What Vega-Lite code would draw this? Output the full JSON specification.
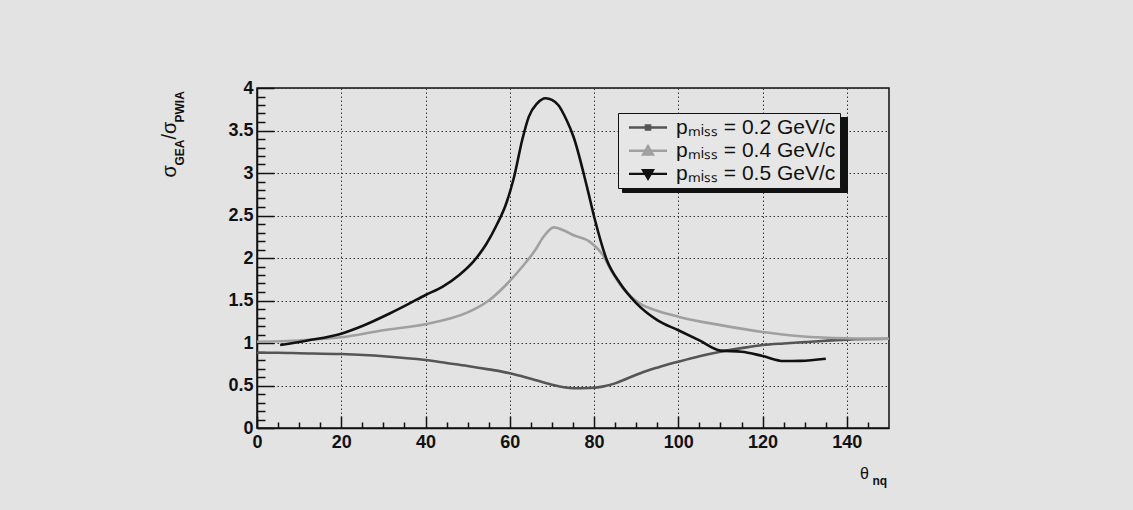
{
  "$schema": "https://vega.github.io/schema/vega-lite/v6.json",
  "width": 632,
  "height": 340,
  "autosize": {"type": "none"},
  "padding": {"left": 257, "top": 88, "right": 244, "bottom": 82},
  "background": "#e3e3e3",
  "config": {
    "view": {"stroke": "#111111", "strokeWidth": 1.5, "fill": "#e3e3e3"},
    "axis": {
      "labelFont": "Liberation Sans", "labelFontWeight": "bold", "labelFontSize": 18, "labelColor": "#111111",
      "titleFont": "Liberation Sans", "titleColor": "#111111",
      "domainColor": "#111111", "domainWidth": 1.5, "tickColor": "#111111", "tickWidth": 1.5,
      "gridColor": "#333333", "gridDash": [1.5, 2.5], "gridWidth": 1, "gridOpacity": 1,
      "labelFlush": false
    },
    "legend": {
      "orient": "none", "title": null, "padding": 4, "labelFont": "Liberation Sans", "labelFontSize": 21,
      "symbolSize": 400, "symbolStrokeWidth": 0, "symbolOpacity": 1, "rowPadding": 1.2, "symbolOffset": 15.5, "labelOffset": 17.5
    }
  },
  "data": {"values": [
    {"s": "pₘᵢₛₛ = 0.2 GeV/c", "t": 0, "r": 0.886},
    {"s": "pₘᵢₛₛ = 0.2 GeV/c", "t": 5, "r": 0.885},
    {"s": "pₘᵢₛₛ = 0.2 GeV/c", "t": 10, "r": 0.88},
    {"s": "pₘᵢₛₛ = 0.2 GeV/c", "t": 20, "r": 0.87},
    {"s": "pₘᵢₛₛ = 0.2 GeV/c", "t": 30, "r": 0.845},
    {"s": "pₘᵢₛₛ = 0.2 GeV/c", "t": 40, "r": 0.8},
    {"s": "pₘᵢₛₛ = 0.2 GeV/c", "t": 45, "r": 0.765},
    {"s": "pₘᵢₛₛ = 0.2 GeV/c", "t": 50, "r": 0.73},
    {"s": "pₘᵢₛₛ = 0.2 GeV/c", "t": 55, "r": 0.69},
    {"s": "pₘᵢₛₛ = 0.2 GeV/c", "t": 60, "r": 0.645},
    {"s": "pₘᵢₛₛ = 0.2 GeV/c", "t": 65, "r": 0.58},
    {"s": "pₘᵢₛₛ = 0.2 GeV/c", "t": 70, "r": 0.51},
    {"s": "pₘᵢₛₛ = 0.2 GeV/c", "t": 75, "r": 0.468},
    {"s": "pₘᵢₛₛ = 0.2 GeV/c", "t": 79, "r": 0.47},
    {"s": "pₘᵢₛₛ = 0.2 GeV/c", "t": 82, "r": 0.487},
    {"s": "pₘᵢₛₛ = 0.2 GeV/c", "t": 85, "r": 0.525},
    {"s": "pₘᵢₛₛ = 0.2 GeV/c", "t": 88, "r": 0.585},
    {"s": "pₘᵢₛₛ = 0.2 GeV/c", "t": 91, "r": 0.645},
    {"s": "pₘᵢₛₛ = 0.2 GeV/c", "t": 95, "r": 0.71},
    {"s": "pₘᵢₛₛ = 0.2 GeV/c", "t": 100, "r": 0.78},
    {"s": "pₘᵢₛₛ = 0.2 GeV/c", "t": 105, "r": 0.845},
    {"s": "pₘᵢₛₛ = 0.2 GeV/c", "t": 110, "r": 0.898},
    {"s": "pₘᵢₛₛ = 0.2 GeV/c", "t": 115, "r": 0.94},
    {"s": "pₘᵢₛₛ = 0.2 GeV/c", "t": 120, "r": 0.976},
    {"s": "pₘᵢₛₛ = 0.2 GeV/c", "t": 125, "r": 0.995},
    {"s": "pₘᵢₛₛ = 0.2 GeV/c", "t": 130, "r": 1.01},
    {"s": "pₘᵢₛₛ = 0.2 GeV/c", "t": 140, "r": 1.04},
    {"s": "pₘᵢₛₛ = 0.2 GeV/c", "t": 150, "r": 1.05},
    {"s": "pₘᵢₛₛ = 0.4 GeV/c", "t": 0, "r": 1.015},
    {"s": "pₘᵢₛₛ = 0.4 GeV/c", "t": 10, "r": 1.03},
    {"s": "pₘᵢₛₛ = 0.4 GeV/c", "t": 20, "r": 1.067},
    {"s": "pₘᵢₛₛ = 0.4 GeV/c", "t": 30, "r": 1.15},
    {"s": "pₘᵢₛₛ = 0.4 GeV/c", "t": 40, "r": 1.22},
    {"s": "pₘᵢₛₛ = 0.4 GeV/c", "t": 46, "r": 1.29},
    {"s": "pₘᵢₛₛ = 0.4 GeV/c", "t": 50, "r": 1.36},
    {"s": "pₘᵢₛₛ = 0.4 GeV/c", "t": 55, "r": 1.5},
    {"s": "pₘᵢₛₛ = 0.4 GeV/c", "t": 60, "r": 1.73},
    {"s": "pₘᵢₛₛ = 0.4 GeV/c", "t": 63, "r": 1.9},
    {"s": "pₘᵢₛₛ = 0.4 GeV/c", "t": 66, "r": 2.09},
    {"s": "pₘᵢₛₛ = 0.4 GeV/c", "t": 68, "r": 2.25},
    {"s": "pₘᵢₛₛ = 0.4 GeV/c", "t": 70.5, "r": 2.36},
    {"s": "pₘᵢₛₛ = 0.4 GeV/c", "t": 73, "r": 2.32},
    {"s": "pₘᵢₛₛ = 0.4 GeV/c", "t": 75, "r": 2.27},
    {"s": "pₘᵢₛₛ = 0.4 GeV/c", "t": 79, "r": 2.19},
    {"s": "pₘᵢₛₛ = 0.4 GeV/c", "t": 82, "r": 2.04},
    {"s": "pₘᵢₛₛ = 0.4 GeV/c", "t": 84, "r": 1.86},
    {"s": "pₘᵢₛₛ = 0.4 GeV/c", "t": 86, "r": 1.7},
    {"s": "pₘᵢₛₛ = 0.4 GeV/c", "t": 88, "r": 1.58},
    {"s": "pₘᵢₛₛ = 0.4 GeV/c", "t": 91, "r": 1.46},
    {"s": "pₘᵢₛₛ = 0.4 GeV/c", "t": 95, "r": 1.38},
    {"s": "pₘᵢₛₛ = 0.4 GeV/c", "t": 100, "r": 1.31},
    {"s": "pₘᵢₛₛ = 0.4 GeV/c", "t": 110, "r": 1.21},
    {"s": "pₘᵢₛₛ = 0.4 GeV/c", "t": 120, "r": 1.13},
    {"s": "pₘᵢₛₛ = 0.4 GeV/c", "t": 129, "r": 1.08},
    {"s": "pₘᵢₛₛ = 0.4 GeV/c", "t": 140, "r": 1.055},
    {"s": "pₘᵢₛₛ = 0.4 GeV/c", "t": 150, "r": 1.05},
    {"s": "pₘᵢₛₛ = 0.5 GeV/c", "t": 5.5, "r": 0.976},
    {"s": "pₘᵢₛₛ = 0.5 GeV/c", "t": 12, "r": 1.03},
    {"s": "pₘᵢₛₛ = 0.5 GeV/c", "t": 20, "r": 1.11},
    {"s": "pₘᵢₛₛ = 0.5 GeV/c", "t": 25, "r": 1.2},
    {"s": "pₘᵢₛₛ = 0.5 GeV/c", "t": 31.6, "r": 1.35},
    {"s": "pₘᵢₛₛ = 0.5 GeV/c", "t": 36, "r": 1.46},
    {"s": "pₘᵢₛₛ = 0.5 GeV/c", "t": 40, "r": 1.565},
    {"s": "pₘᵢₛₛ = 0.5 GeV/c", "t": 44, "r": 1.66},
    {"s": "pₘᵢₛₛ = 0.5 GeV/c", "t": 48, "r": 1.8},
    {"s": "pₘᵢₛₛ = 0.5 GeV/c", "t": 51.4, "r": 1.96},
    {"s": "pₘᵢₛₛ = 0.5 GeV/c", "t": 54.5, "r": 2.17},
    {"s": "pₘᵢₛₛ = 0.5 GeV/c", "t": 57, "r": 2.4},
    {"s": "pₘᵢₛₛ = 0.5 GeV/c", "t": 59, "r": 2.62},
    {"s": "pₘᵢₛₛ = 0.5 GeV/c", "t": 61, "r": 2.95},
    {"s": "pₘᵢₛₛ = 0.5 GeV/c", "t": 63, "r": 3.4},
    {"s": "pₘᵢₛₛ = 0.5 GeV/c", "t": 64.5, "r": 3.66},
    {"s": "pₘᵢₛₛ = 0.5 GeV/c", "t": 66.5, "r": 3.82},
    {"s": "pₘᵢₛₛ = 0.5 GeV/c", "t": 68.5, "r": 3.88},
    {"s": "pₘᵢₛₛ = 0.5 GeV/c", "t": 70, "r": 3.86},
    {"s": "pₘᵢₛₛ = 0.5 GeV/c", "t": 71.5, "r": 3.8},
    {"s": "pₘᵢₛₛ = 0.5 GeV/c", "t": 73.5, "r": 3.62},
    {"s": "pₘᵢₛₛ = 0.5 GeV/c", "t": 75.1, "r": 3.43},
    {"s": "pₘᵢₛₛ = 0.5 GeV/c", "t": 78.3, "r": 2.84},
    {"s": "pₘᵢₛₛ = 0.5 GeV/c", "t": 80.2, "r": 2.45},
    {"s": "pₘᵢₛₛ = 0.5 GeV/c", "t": 83, "r": 1.98},
    {"s": "pₘᵢₛₛ = 0.5 GeV/c", "t": 86.2, "r": 1.7},
    {"s": "pₘᵢₛₛ = 0.5 GeV/c", "t": 90, "r": 1.47},
    {"s": "pₘᵢₛₛ = 0.5 GeV/c", "t": 95, "r": 1.27},
    {"s": "pₘᵢₛₛ = 0.5 GeV/c", "t": 100, "r": 1.15},
    {"s": "pₘᵢₛₛ = 0.5 GeV/c", "t": 105, "r": 1.03},
    {"s": "pₘᵢₛₛ = 0.5 GeV/c", "t": 110, "r": 0.91},
    {"s": "pₘᵢₛₛ = 0.5 GeV/c", "t": 115, "r": 0.898},
    {"s": "pₘᵢₛₛ = 0.5 GeV/c", "t": 120, "r": 0.847},
    {"s": "pₘᵢₛₛ = 0.5 GeV/c", "t": 125, "r": 0.788},
    {"s": "pₘᵢₛₛ = 0.5 GeV/c", "t": 129, "r": 0.79},
    {"s": "pₘᵢₛₛ = 0.5 GeV/c", "t": 135, "r": 0.815}
  ]},
  "resolve": {"axis": {"x": "independent", "y": "independent"}},
  "layer": [
    {
      "mark": {"type": "line", "strokeWidth": 2.6, "interpolate": "monotone"},
      "encoding": {
        "x": {"field": "t", "type": "quantitative", "scale": {"domain": [0, 150], "nice": false, "zero": false},
          "axis": {"orient": "bottom", "values": [0, 20, 40, 60, 80, 100, 120, 140], "grid": true, "ticks": false, "labelPadding": 5,
            "title": "θ", "titleX": 607, "titleY": 50, "titleFontSize": 16, "titleFontWeight": "normal",
            "titleAlign": "center", "titleBaseline": "alphabetic", "titleAngle": 0}},
        "y": {"field": "r", "type": "quantitative", "scale": {"domain": [0, 4], "nice": false, "zero": false},
          "axis": {"orient": "left", "values": [0, 0.5, 1, 1.5, 2, 2.5, 3, 3.5, 4], "format": "~g", "grid": true, "ticks": false, "labelPadding": 4,
            "title": "σ", "titleX": -82, "titleY": 89, "titleFontSize": 20, "titleFontWeight": "normal",
            "titleAlign": "left", "titleBaseline": "alphabetic", "titleAngle": 270}},
        "color": {"field": "s", "type": "nominal",
          "scale": {"domain": ["pₘᵢₛₛ = 0.2 GeV/c", "pₘᵢₛₛ = 0.4 GeV/c", "pₘᵢₛₛ = 0.5 GeV/c"], "range": ["#555555", "#a0a0a0", "#111111"]},
          "legend": {"legendX": 361, "legendY": 25, "strokeColor": "#111111", "fillColor": "#e6e6e6", "labelColor": "#111111", "zindex": 2}}
      }
    },
    {
      "mark": {"type": "line", "opacity": 0},
      "encoding": {
        "x": {"field": "t", "type": "quantitative",
          "axis": {"orient": "bottom", "values": [0, 20, 40, 60, 80, 100, 120, 140], "grid": false, "labels": false, "domain": false, "ticks": true, "tickSize": -12,
            "title": "nq", "titleX": 615, "titleY": 56, "titleFontSize": 12, "titleFontWeight": "bold",
            "titleAlign": "left", "titleBaseline": "alphabetic", "titleAngle": 0}},
        "y": {"field": "r", "type": "quantitative",
          "axis": {"orient": "left", "values": [0, 0.5, 1, 1.5, 2, 2.5, 3, 3.5, 4], "grid": false, "labels": false, "domain": false, "ticks": true, "tickSize": -17,
            "title": "GEA", "titleX": -74, "titleY": 77, "titleFontSize": 12, "titleFontWeight": "bold",
            "titleAlign": "left", "titleBaseline": "alphabetic", "titleAngle": 270}},
        "strokeDash": {"field": "s", "type": "nominal",
          "scale": {"domain": ["pₘᵢₛₛ = 0.5 GeV/c", "pₘᵢₛₛ = 0.4 GeV/c", "pₘᵢₛₛ = 0.2 GeV/c"]},
          "legend": {"legendX": 365, "legendY": 29, "strokeColor": "#111111", "fillColor": "#111111", "labelColor": "#111111",
            "labelExpr": "''", "labelOffset": 180,
            "symbolStrokeColor": "#111111", "symbolFillColor": "#111111", "zindex": 1}}
      }
    },
    {
      "mark": {"type": "line", "opacity": 0},
      "encoding": {
        "x": {"field": "t", "type": "quantitative",
          "axis": {"orient": "bottom", "values": [5, 10, 15, 25, 30, 35, 45, 50, 55, 65, 70, 75, 85, 90, 95, 105, 110, 115, 125, 130, 135, 145], "grid": false, "labels": false, "domain": false, "ticks": true, "tickSize": -6, "title": null}},
        "y": {"field": "r", "type": "quantitative",
          "axis": {"orient": "left", "values": [0.1, 0.2, 0.3, 0.4, 0.6, 0.7, 0.8, 0.9, 1.1, 1.2, 1.3, 1.4, 1.6, 1.7, 1.8, 1.9, 2.1, 2.2, 2.3, 2.4, 2.6, 2.7, 2.8, 2.9, 3.1, 3.2, 3.3, 3.4, 3.6, 3.7, 3.8, 3.9],
            "grid": false, "labels": false, "domain": false, "ticks": true, "tickSize": -8,
            "title": "/σ", "titleX": -82, "titleY": 51, "titleFontSize": 20, "titleFontWeight": "normal",
            "titleAlign": "left", "titleBaseline": "alphabetic", "titleAngle": 270}}
      }
    },
    {
      "mark": {"type": "point", "filled": true, "opacity": 0},
      "encoding": {
        "x": {"field": "t", "type": "quantitative", "axis": null},
        "y": {"field": "r", "type": "quantitative",
          "axis": {"orient": "left", "grid": false, "labels": false, "domain": false, "ticks": false,
            "title": "PWIA", "titleX": -74, "titleY": 34, "titleFontSize": 12, "titleFontWeight": "bold",
            "titleAlign": "left", "titleBaseline": "alphabetic", "titleAngle": 270}},
        "color": {"field": "s", "type": "nominal",
          "scale": {"domain": ["pₘᵢₛₛ = 0.2 GeV/c", "pₘᵢₛₛ = 0.4 GeV/c", "pₘᵢₛₛ = 0.5 GeV/c"], "range": ["#555555", "#a0a0a0", "#111111"]},
          "legend": {"legendX": 361, "legendY": 25, "strokeColor": "#111111", "fillColor": "#e6e6e6", "labelColor": "#111111", "zindex": 2}},
        "shape": {"field": "s", "type": "nominal",
          "scale": {"domain": ["pₘᵢₛₛ = 0.2 GeV/c", "pₘᵢₛₛ = 0.4 GeV/c", "pₘᵢₛₛ = 0.5 GeV/c"],
            "range": ["M-1.9,-0.12H1.9V0.12H-1.9Z M-0.33,-0.33H0.33V0.33H-0.33Z", "M-1.9,-0.12H1.9V0.12H-1.9Z M0,-0.7L0.7,0.5H-0.7Z", "M-1.9,-0.12H1.9V0.12H-1.9Z M-0.7,-0.5H0.7L0,0.7Z"]},
          "legend": {"legendX": 361, "legendY": 25, "strokeColor": "#111111", "fillColor": "#e6e6e6", "labelColor": "#111111", "zindex": 2}}
      }
    }
  ]
}
